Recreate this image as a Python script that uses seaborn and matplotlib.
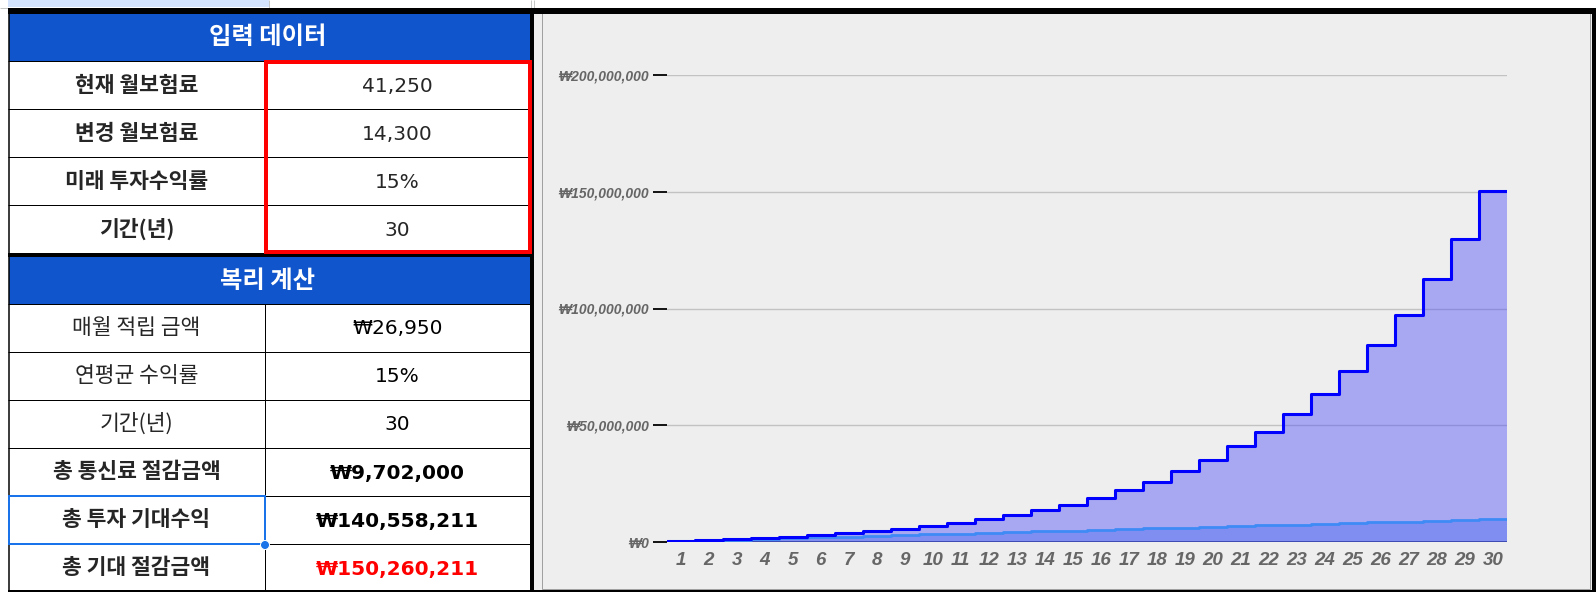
import numpy as np
import matplotlib
matplotlib.use("Agg")
import matplotlib.pyplot as plt
from matplotlib.patches import Rectangle, Circle
from matplotlib.ticker import FuncFormatter
import seaborn as sns

# table data
input_title = '입력 데이터'
input_labels = ['현재 월보험료', '변경 월보험료', '미래 투자수익률', '기간(년)']
input_values = ['41,250', '14,300', '15%', '30']

calc_title = '복리 계산'
calc_labels = ['매월 적립 금액', '연평균 수익률', '기간(년)',
               '총 통신료 절감금액', '총 투자 기대수익', '총 기대 절감금액']
calc_values = ['₩26,950', '15%', '30', '₩9,702,000', '₩140,558,211', '₩150,260,211']
calc_bold = [False, False, False, True, True, True]
calc_colors = ['black', 'black', 'black', 'black', 'black', '#FF0000']

# chart data
years = list(range(1, 31))
expected_total = [400000, 700000, 1100000, 1600000, 2200000, 2900000, 3700000, 4600000,
                  5700000, 6900000, 8000000, 9900000, 11600000, 13800000, 16000000,
                  19000000, 22300000, 25800000, 30200000, 35200000, 41000000, 47200000,
                  54700000, 63200000, 73200000, 84500000, 97400000, 112600000,
                  129600000, 150260211]
saving_total = [323400, 646800, 970200, 1293600, 1617000, 1940400, 2263800, 2587200,
                2910600, 3234000, 3557400, 3880800, 4204200, 4527600, 4851000,
                5174400, 5497800, 5821200, 6144600, 6468000, 6791400, 7114800,
                7438200, 7761600, 8085000, 8408400, 8731800, 9055200, 9378600, 9702000]

sns.set_style("white")
KR = ['Noto Sans CJK KR', 'DejaVu Sans']
LAT = ['DejaVu Sans', 'Noto Sans CJK KR']
plt.rcParams['font.family'] = KR

W, H = 1596, 592
fig = plt.figure(figsize=(W / 100, H / 100), dpi=100)
fig.patch.set_facecolor('white')

bg = fig.add_axes([0, 0, 1, 1])
bg.set_xlim(0, W)
bg.set_ylim(H, 0)
bg.axis('off')


def pt(p):
    return p * 0.72


def rect(x0, y0, x1, y1, fc, ec='none', lw=0, z=1):
    bg.add_patch(Rectangle((x0, y0), x1 - x0, y1 - y0, facecolor=fc,
                           edgecolor=ec, linewidth=pt(lw), zorder=z))


def hline(y, x0, x1, c='black', w=1, z=3):
    bg.plot([x0, x1], [y, y], color=c, lw=pt(w), zorder=z, solid_capstyle='butt')


def vline(x, y0, y1, c='black', w=1, z=3):
    bg.plot([x, x], [y0, y1], color=c, lw=pt(w), zorder=z, solid_capstyle='butt')


# spreadsheet strip on top
rect(8, 0, 269, 7, '#D3E3FD')
hline(7.5, 0, W, '#C4C7C5')
for x in [269, 530.5, 534]:
    vline(x, 0, 7.5, '#C4C7C5')

# chart panel
rect(534, 7.5, 1592, H, '#EEEEEE')
rect(542, 12.5, 1590, 589, 'none', '#A0A0A0', 1, z=2)

# black frame
rect(8, 7.5, W, 13.5, 'black', z=4)
rect(530, 7.5, 534, H, 'black', z=4)
rect(1592, 7.5, W, H, 'black', z=4)
hline(591, 8, W, w=2, z=4)
vline(8.5, 7.5, H, w=1.5, z=4)

col_mid = 265
left_c, right_c = (8 + col_mid) / 2, (col_mid + 530) / 2
row_h = 48

# input table
top1 = 13.5
rect(8.5, top1, 530, top1 + 47.5, '#1155CC', z=2)
bg.text(268, top1 + 24, input_title, color='white', fontsize=17.5, fontweight='bold',
        ha='center', va='center', family=KR, zorder=5)
y = 61
for lab, val in zip(input_labels, input_values):
    hline(y, 8, 530)
    bg.text(left_c, y + row_h / 2, lab, fontsize=15.5, fontweight='bold',
            ha='center', va='center', family=KR, zorder=5)
    bg.text(right_c, y + row_h / 2 + 1, val, fontsize=14.5, ha='center', va='center',
            family=LAT, zorder=5)
    y += row_h
vline(col_mid, 61, 253)
rect(8, 252.5, 530, 257, 'black', z=4)

# calculation table
top2 = 257
rect(8.5, top2, 530, 304, '#1155CC', z=2)
bg.text(268, top2 + 23.5, calc_title, color='white', fontsize=17.5, fontweight='bold',
        ha='center', va='center', family=KR, zorder=5)
y = 304
for lab, val, b, c in zip(calc_labels, calc_values, calc_bold, calc_colors):
    hline(y, 8, 530)
    bg.text(left_c, y + row_h / 2, lab, fontsize=15.5,
            fontweight='bold' if b else 'normal', ha='center', va='center',
            family=KR, zorder=5)
    bg.text(right_c, y + row_h / 2 + 1, val, fontsize=14.5, color=c,
            fontweight='bold' if b else 'normal', ha='center', va='center',
            family=LAT, zorder=5)
    y += row_h
vline(col_mid, 304, H)

# red input box and selection box
rect(266, 62, 529.5, 252, 'none', '#FF0000', 4, z=6)
rect(9, 496, 265, 544, 'none', '#1A73E8', 2, z=6)
bg.add_patch(Circle((265, 545), 4.5, facecolor='#1A73E8', edgecolor='white',
                    linewidth=0.7, zorder=7))

# chart
ax = fig.add_axes([666.8 / W, (H - 542) / H, (1506.8 - 666.8) / W, (542 - 75) / H])
ax.set_facecolor('none')
edges = np.append(np.array(years) - 0.5, years[-1] + 0.5)

ax.stairs(expected_total, edges, baseline=0, fill=True, color='#5252F7',
          alpha=0.45, linewidth=0, zorder=1)
ax.stairs(saving_total, edges, baseline=0, fill=True, color='#808EF2',
          linewidth=0, zorder=1.5)
ax.axhline(0, color='#3040A8', lw=1.2, zorder=2)
sns.lineplot(x=edges, y=saving_total + saving_total[-1:], drawstyle='steps-post',
             estimator=None, color='#3F8BF6', lw=2, ax=ax, zorder=2.5)
sns.lineplot(x=edges, y=expected_total + expected_total[-1:], drawstyle='steps-post',
             estimator=None, color='#0000FF', lw=2.2, ax=ax, zorder=3)

ax.set_xlim(0.5, 30.5)
ax.set_ylim(0, 200000000)
ax.set_yticks([0, 50000000, 100000000, 150000000, 200000000])
ax.yaxis.set_major_formatter(FuncFormatter(lambda v, p: f'₩{v:,.0f}'))
ax.set_xticks(years)
ax.set_xticklabels([str(v) for v in years])
ax.yaxis.grid(True, color='#C2C2C2', lw=1, zorder=0.5)
ax.xaxis.grid(False)
ax.set_axisbelow(True)
for s in ax.spines.values():
    s.set_visible(False)
ax.tick_params(axis='y', length=10, width=1.3, color='black', pad=3, left=True)
ax.tick_params(axis='x', length=0, pad=7)
ax.set_xlabel('')
ax.set_ylabel('')
for t in ax.get_yticklabels():
    t.set_fontfamily(['Liberation Sans', 'DejaVu Sans'])
    t.set_fontsize(10)
    t.set_fontweight('bold')
    t.set_fontstyle('italic')
    t.set_color('#666666')
for t in ax.get_xticklabels():
    t.set_fontfamily(['Liberation Sans', 'DejaVu Sans'])
    t.set_fontsize(13.5)
    t.set_fontweight('bold')
    t.set_fontstyle('italic')
    t.set_color('#666666')

fig.savefig('out.png', dpi=100)
